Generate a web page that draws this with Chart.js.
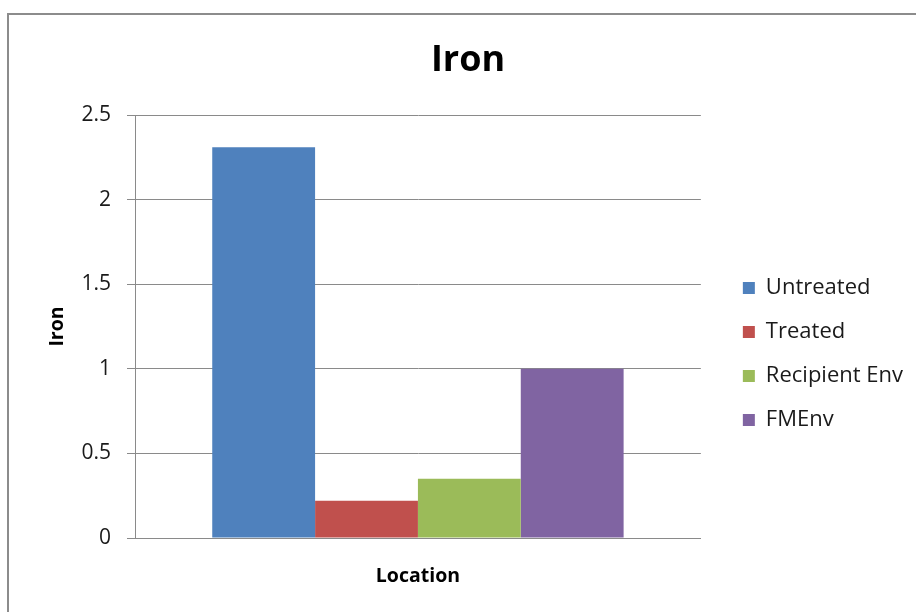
<!DOCTYPE html>
<html>
<head>
<meta charset="utf-8">
<script src="https://cdn.jsdelivr.net/npm/chart.js@4/dist/chart.umd.min.js"></script>
<style>
  html, body { margin: 0; padding: 0; background: #ffffff; }
  #wrap { position: relative; width: 916px; height: 612px; overflow: hidden; }
  #frame {
    position: absolute; left: 7px; top: 13px; width: 1000px; height: 700px;
    border-left: 2px solid #8c8c8c; border-top: 2px solid #8c8c8c;
  }
  #chart { position: absolute; left: 0; top: 0; }
</style>
</head>
<body>
<div id="wrap">
  <div id="frame"></div>
  <canvas id="chart" width="916" height="612"></canvas>
</div>
<script>
// Iron concentration by location
const categories = [''];
const seriesNames = ['Untreated', 'Treated', 'Recipient Env', 'FMEnv'];
const untreated = [2.31];
const treated = [0.22];
const recipientEnv = [0.35];
const fmEnv = [1.0];
const seriesColors = ['#4F81BD', '#C0504D', '#9BBB59', '#8064A2'];
const yTicks = { min: 0, max: 2.5, step: 0.5 };

const FONT = '"Open Sans", "Noto Sans", "Liberation Sans", sans-serif';
const GRID = '#8a8a8a';

const seriesValues = [untreated, treated, recipientEnv, fmEnv];

// leaves a little extra room between the plot and the legend
const legendGap = {
  id: 'legendGap',
  afterLayout(chart) {
    if (chart.legend) {
      chart.legend.left += 20;
      chart.legend.right += 20;
    }
  }
};

new Chart(document.getElementById('chart'), {
  type: 'bar',
  data: {
    labels: categories,
    datasets: seriesNames.map((name, i) => ({
      label: name,
      data: seriesValues[i],
      backgroundColor: seriesColors[i],
      borderWidth: 0,
      categoryPercentage: 0.727,
      barPercentage: 1.0
    }))
  },
  plugins: [legendGap],
  options: {
    responsive: false,
    animation: false,
    devicePixelRatio: 1,
    layout: { padding: { left: 43, right: 23, top: 0, bottom: 0 } },
    plugins: {
      tooltip: { enabled: false },
      title: {
        display: true,
        text: 'Iron',
        color: '#000000',
        font: { family: FONT, size: 36, weight: 'bold' },
        padding: { top: 39, bottom: 32.8 }
      },
      legend: {
        display: true,
        position: 'right',
        fullSize: false,
        title: { display: true, text: '', font: { size: 10 }, padding: { top: 43, bottom: 0 } },
        labels: {
          boxWidth: 12,
          boxHeight: 12,
          padding: 22,
          color: '#1a1a1a',
          font: { family: FONT, size: 22 }
        }
      }
    },
    scales: {
      x: {
        grid: { display: false },
        border: { display: true, color: GRID, width: 1 },
        ticks: { display: false },
        title: {
          display: true,
          text: 'Location',
          color: '#000000',
          font: { family: FONT, size: 19.5, weight: 'bold' },
          padding: { top: 0, bottom: 24.3 }
        },
        afterFit: (s) => { s.height = 74; }
      },
      y: {
        min: yTicks.min,
        max: yTicks.max,
        grid: { color: GRID, lineWidth: 1, tickLength: 8, drawTicks: true },
        border: { display: true, color: GRID, width: 1 },
        ticks: {
          stepSize: yTicks.step,
          padding: 16,
          color: '#1a1a1a',
          font: { family: FONT, size: 21 },
          callback: (v) => String(v)
        },
        title: {
          display: true,
          text: 'Iron',
          color: '#000000',
          font: { family: FONT, size: 19.5, weight: 'bold' },
          padding: { top: 2.3, bottom: 0 }
        },
        afterFit: (s) => { s.width = 92; }
      }
    }
  }
});
</script>
</body>
</html>
